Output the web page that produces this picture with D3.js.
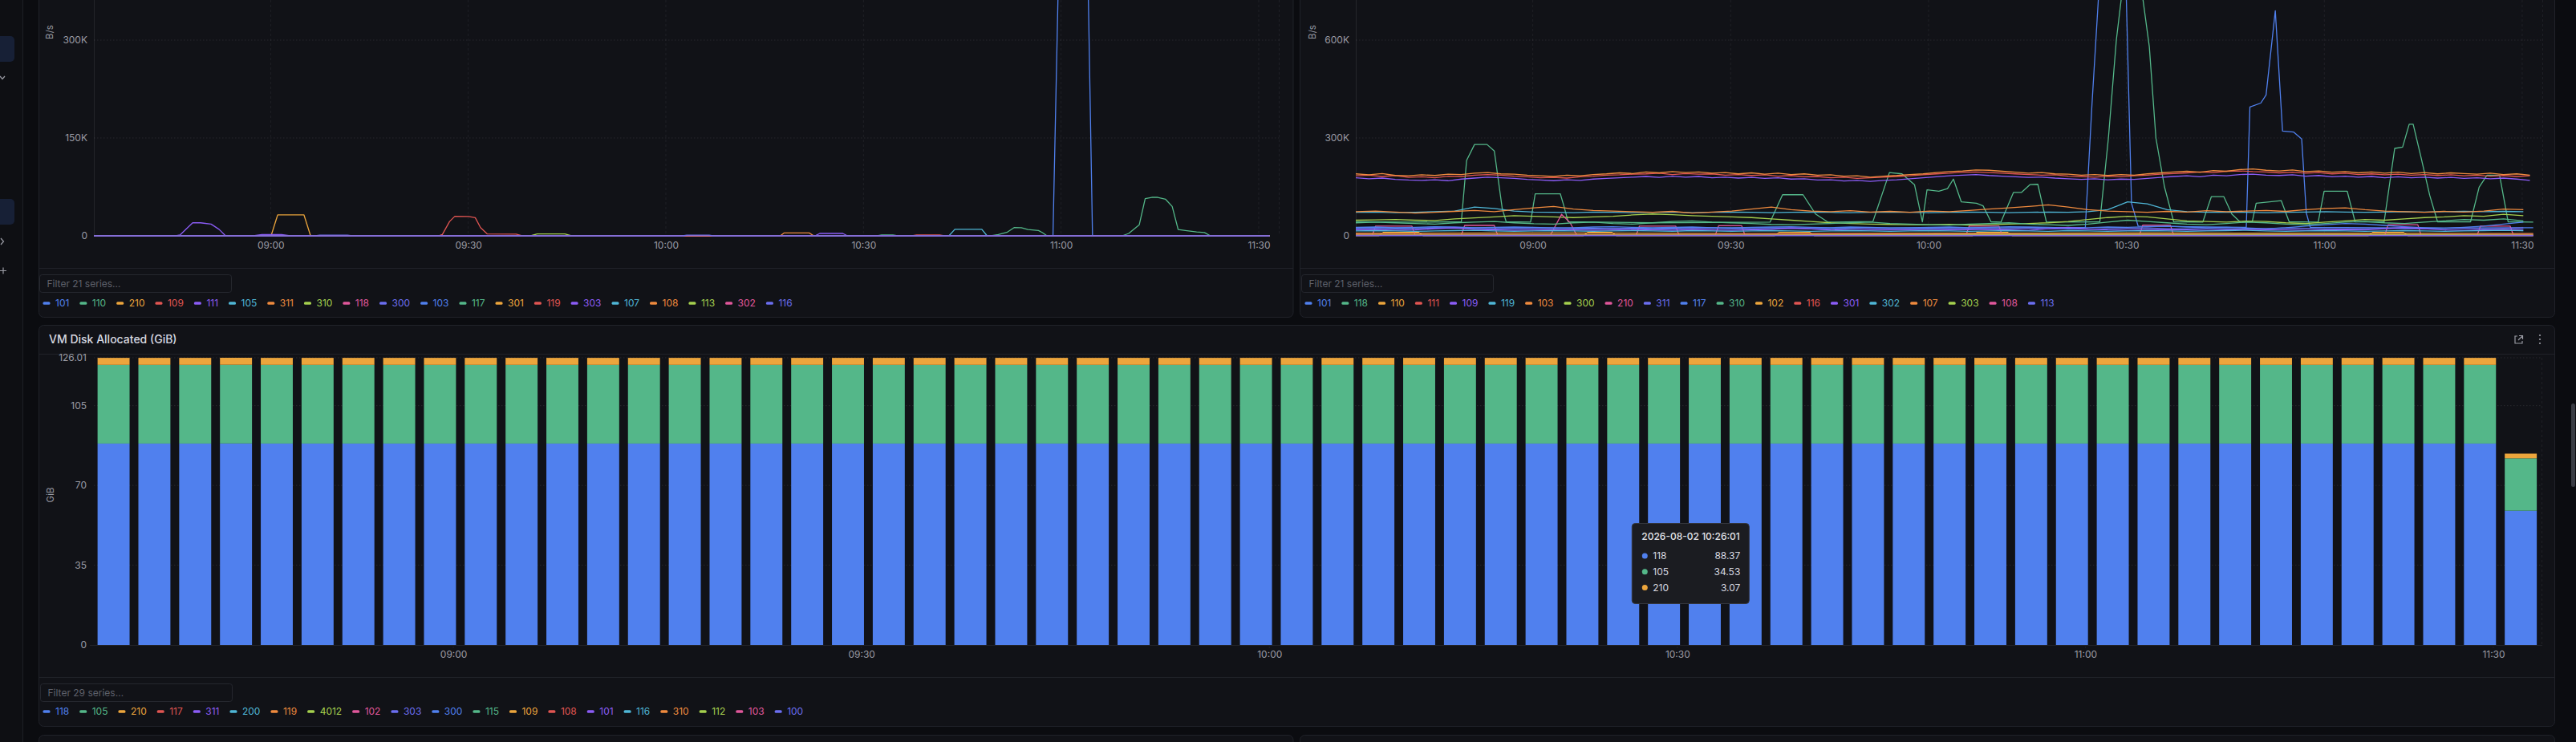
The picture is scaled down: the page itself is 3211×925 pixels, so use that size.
<!DOCTYPE html>
<html>
<head>
<meta charset="utf-8">
<script src="https://cdn.jsdelivr.net/npm/d3@7/dist/d3.min.js"></script>
<style>
  html, body { margin: 0; padding: 0; background: #0b0c10; overflow: hidden; }
  svg { display: block; font-family: Inter, "Noto Sans", sans-serif; }
</style>
</head>
<body>
<svg id="dash" width="3211" height="925"></svg>
<script>
// =========================
// data
// =========================

// series colours, cycled in legend order
const palette = ["#5080ee", "#54b789", "#eca53c", "#e05552", "#8b5cf6",
                 "#4fb6d6", "#ef8a3e", "#a5d04e", "#e0579b", "#6b6ef0"];

// ---- top-left panel (B/s, values in K), points are [minutes after 08:33:10, value]
const leftNames = ["101", "110", "210", "109", "111", "105", "311", "310", "118", "300",
                   "103", "117", "301", "119", "303", "107", "108", "113", "302", "116"];
const leftFilter = "Filter 21 series…";
const leftTicks = [0, 150, 300];

const netL_101 = [[0,0],[145.6,0],[146.6,480],[147.6,900],[148.6,1100],[149.6,800],[150.6,580],[151.6,0],[178.5,0]];
const netL_110 = [[0,0],[156.1,0],[157.1,3.7],[158.7,17],[159.6,57],[160.6,59],[161.5,59],[162.7,56],[163.7,45],[164.6,9.8],[165.7,8.2],[167.4,6],[168.6,5],[169.5,0],[178.5,0]];
const netL_210 = [[0,0],[26.9,0],[27.9,32],[31.9,32],[32.9,0],[178.5,0]];
const netL_109 = [[0,0],[52.3,0],[52.9,2],[54.0,22],[54.8,30],[56.9,29.6],[57.9,27.8],[58.7,12.6],[59.7,3],[64.1,2.5],[65,0],[178.5,0]];
const netL_111 = [[0,0],[12.4,0],[13.1,1.5],[15,20],[16.2,20],[17.8,18],[19,10],[20,0],[178.5,0]];
const netL_105 = [[0,0],[129.8,0],[130.7,10],[134.8,10],[135.6,0],[178.5,0]];
const netL_311 = [[0,0],[104.2,0],[104.8,4.5],[108.6,4.5],[109.3,0],[178.5,0]];
const netL_310 = [[0,0],[66.3,0],[67.3,2.8],[71.5,2.8],[72.5,0],[178.5,0]];
const netL_300 = [[0,0],[33.6,0],[34.3,1],[38.5,1],[39.2,0],[178.5,0]];
const netL_117 = [[0,0],[118.9,0],[119.6,1.5],[121.3,1.5],[122,0],[136.2,0],[137.3,2],[138.6,5.3],[139.7,12.7],[140.8,12.5],[141.8,9.8],[143.4,8.2],[144,4.9],[144.7,0],[178.5,0]];
const netL_119 = [[0,0],[124.2,0],[124.9,1.5],[128.4,1.5],[129.1,0],[178.5,0]];
const netL_303 = [[0,0],[24.2,0],[25.5,2],[28.5,2],[29.8,0],[109.5,0],[110.2,3.7],[113.7,3.7],[114.4,0],[178.5,0]];
const netL_116 = [[0,0],[89.4,0],[90,1],[93.4,1],[94,0],[178.5,0]];
const netL_flat = [[0,0],[178.5,0]];   // 118, 103, 301, 107, 108, 113, 302

// ---- top-right panel (B/s, values in K)
const rightNames = ["101", "118", "110", "111", "109", "119", "103", "300", "210", "311",
                    "117", "310", "102", "116", "301", "302", "107", "303", "108", "113"];
const rightFilter = "Filter 21 series…";
const rightTicks = [0, 300, 600];

// sampled every 2 min from 08:33:10
const netR_103 = [190,187,191,185,184,187,185,189,188,192, 194,190,189,186,184,182,186,184,188,190,
                  193,191,196,193,197,194,196,192,194,190, 193,189,192,188,190,186,187,183,184,180,
                  183,185,188,190,194,197,199,202,201,198, 195,192,194,190,189,186,188,185,188,186,
                  190,193,196,198,195,200,198,203,205,201, 199,202,197,199,195,197,193,196,192,195,
                  191,194,190,193,191,189,192,188,190,186];
const netR_111 = [184,186,182,185,179,181,178,183,182,186, 188,186,183,181,178,179,177,181,183,186,
                  187,189,190,192,188,191,189,190,186,188, 185,187,183,185,181,182,178,180,176,178,
                  180,182,184,187,190,192,195,196,194,192, 190,188,186,187,183,182,180,183,181,184,
                  186,189,191,193,196,194,198,199,197,196, 193,195,192,194,190,192,188,190,187,189,
                  186,188,185,187,184,186,183,185,182,184];
const netR_109 = [178,175,177,173,171,170,172,169,174,177, 180,178,176,173,171,169,172,170,174,176,
                  178,180,182,179,183,180,182,178,180,177, 179,176,178,174,175,171,172,168,170,167,
                  170,172,175,178,181,184,186,188,185,183, 181,179,180,177,175,173,175,172,174,173,
                  176,179,182,184,181,186,184,188,189,186, 185,187,183,185,181,183,180,182,178,181,
                  178,180,177,179,176,178,175,177,174,170];

// sampled every 3 min from 08:33:10
const netR_107 = [74,76,73,70,72,75,78,74,80,86, 90,82,78,76,74,72,75,70,73,76,
                  82,88,80,76,74,77,73,75,72,76, 74,78,82,86,90,95,88,80,76,74,
                  72,75,73,77,74,76,78,75,80,84, 86,80,76,74,72,75,73,76,82,80];
const netR_119 = [72,73,71,72,74,76,88,84,76,73, 72,71,73,72,71,72,73,71,72,73,
                  72,71,72,73,72,71,72,73,72,71, 72,73,72,71,72,73,72,74,80,104,
                  98,80,74,72,73,72,71,72,73,74, 73,72,73,74,73,74,75,74,75,74];
const netR_300 = [48,49,50,48,47,52,55,58,62,60, 58,56,58,60,64,67,65,62,60,58,
                  56,52,48,44,40,38,36,35,34,34, 35,33,34,36,38,40,44,50,56,60,
                  58,52,46,44,42,45,44,40,38,42, 46,50,48,52,56,58,62,60,66,62];
const netR_310 = [40,42,40,38,36,40,42,44,40,37, 36,40,42,38,36,40,44,46,42,40,
                  38,35,34,36,38,40,42,38,36,34, 33,36,38,40,36,34,32,36,42,48,
                  44,40,36,34,38,42,40,36,34,38, 42,44,40,38,42,46,50,48,52,46];
const netR_117 = [26,27,25,26,28,27,25,26,27,26, 24,25,27,28,26,25,26,27,25,24,
                  26,27,28,26,25,27,26,24,25,26, 27,25,26,28,27,26,24,25,27,26,
                  28,30,27,25,26,24,22,25,30,34, 38,36,32,28,25,23,26,30,36,42];
const netR_311 = [22,23,21,22,24,23,22,21,22,23, 24,22,21,23,22,20,21,23,24,22,
                  21,22,23,21,20,22,24,23,22,21, 22,23,21,22,24,22,21,20,22,23,
                  24,22,21,23,22,21,22,24,23,22, 21,22,23,22,21,23,24,22,23,24];
const netR_301 = [18,19,17,18,22,25,20,18,17,18, 19,18,17,18,20,18,17,19,18,17,
                  18,20,24,21,18,17,18,19,18,17, 18,19,20,18,17,22,26,21,18,17,
                  18,19,18,17,18,20,19,18,17,18, 19,18,22,26,22,18,17,18,19,18];
const netR_302 = [15,16,15,14,15,16,17,15,14,15, 16,15,14,15,16,15,14,16,15,14,
                  15,16,15,14,15,16,15,14,15,16, 15,14,15,16,15,14,16,15,14,15,
                  16,15,14,15,16,17,15,14,15,16, 15,14,15,16,15,14,15,16,17,16];

// breakpoints [minutes after 08:33:10, value]
const netR_101 = [[0,24],[20,25],[40,23],[60,25],[80,24],[100,25],[110.6,26],[111.6,400],[112.8,800],[115,950],[116.6,900],[117.6,100],[118.6,30],
                  [135,26],[135.55,395],[137.2,407],[138,432],[139.4,690],[140.5,321],[142.2,318],[143.4,297],[144.1,70],[144.7,26],[160,24],[178.5,25]];
const netR_118 = [[0,43],[8,42],[16,43],[16.8,231],[18,280],[19.9,280],[21,260],[22.2,84],[22.8,43],[26.5,42],[27.2,129],[31,129],[31.5,95],[32.2,43],
                  [45,40],[62.8,42],[64.7,126],[67.8,126],[69.7,67],[71.6,42],[78.4,44],[80.9,194],[82.8,190],[84.7,157],[85.9,43],[86.6,141],[88.4,137],
                  [89.7,145],[90.6,174],[91.8,104],[94.1,100],[95.1,92],[96.3,43],[97.8,42],[99.7,133],[100.9,133],[102.2,157],[103.4,158],[104.7,42],
                  [112.8,43],[114.1,300],[115.3,600],[116.6,820],[117.8,860],[119.1,760],[120.3,580],[121.3,300],[122.6,150],[124,43],
                  [128.4,42],[129.7,120],[131.6,120],[132.8,67],[134.1,42],[135.9,43],[136.5,100],[140.3,108],[141.5,43],[145.9,42],[146.8,137],
                  [150.3,137],[151.5,43],[155.9,43],[157.5,268],[158.7,272],[159.7,342],[160.3,342],[161.5,240],[162.8,125],[164,43],
                  [169,43],[170.3,149],[171.5,186],[173.4,186],[174.7,43],[178.5,42]];
const netR_210 = [[0,2],[2.5,2],[3,30],[8.5,30],[9,2],[16,2],[16.5,32],[21,32],[21.5,2],[29.5,2],[31.2,66],[32.5,40],[33.5,2],[42.5,2],[43,30],
                  [48.5,30],[49,2],[54.5,2],[55,31],[58.5,31],[59,2],[92.5,2],[93,30],[97.5,30],[98,2],[118.8,2],[119.3,33],[123.5,33],[124,2],
                  [156,2],[156.5,34],[161,34],[161.5,2],[170,2],[170.5,30],[175,30],[175.5,2],[178.5,2]];
const netR_110 = [[0,0.5],[3.5,0.5],[4.2,11],[9.5,11],[10.2,0.5],[34.5,0.5],[35.2,11],[38.8,11],[39.5,0.5],[63.5,0.5],[64.2,11],[68.8,11],
                  [69.5,0.5],[93.5,0.5],[94.2,11],[98.8,11],[99.5,0.5],[153.5,0.5],[154.2,11],[158.8,11],[159.5,0.5],[178.5,0.5]];
const netR_102 = [[0,8],[30,9],[60,7],[90,8],[120,9],[150,8],[178.5,7]];
const netR_116 = [[0,5],[40,4],[80,6],[120,5],[160,4],[178.5,5]];
const netR_303 = [[0,3],[60,3],[120,4],[178.5,3]];
const netR_108 = [[0,1.5],[90,1.5],[178.5,1.5]];
const netR_113 = [[0,0.5],[178.5,0.5]];

// ---- VM Disk Allocated (GiB), one bar every 3 min from 08:35:01
const diskTitle = "VM Disk Allocated (GiB)";
const diskNames = ["118", "105", "210", "117", "311", "200", "119", "4012", "102", "303",
                   "300", "115", "109", "108", "101", "116", "310", "112", "103", "100"];
const diskFilter = "Filter 29 series…";
const diskTicks = [0, 35, 70, 105];
const diskStackOrder = ["118", "105", "210"];   // bottom to top
const disk118 = [88.37,88.37,88.37,88.41,88.37,88.37,88.37,88.37,88.37,88.37,
                 88.37,88.37,88.37,88.37,88.37,88.37,88.37,88.37,88.37,88.37,
                 88.37,88.37,88.37,88.37,88.37,88.37,88.37,88.37,88.37,88.37,
                 88.37,88.37,88.37,88.37,88.37,88.37,88.37,88.37,88.37,88.37,
                 88.37,88.37,88.37,88.37,88.37,88.37,88.37,88.37,88.37,88.37,
                 88.37,88.37,88.37,88.37,88.37,88.37,88.37,88.37,88.37,58.9];
const disk105 = [34.53,34.53,34.53,34.53,34.53,34.53,34.53,34.53,34.53,34.53,
                 34.53,34.53,34.53,34.53,34.53,34.53,34.53,34.53,34.53,34.53,
                 34.53,34.53,34.53,34.53,34.53,34.53,34.53,34.53,34.53,34.53,
                 34.53,34.53,34.53,34.53,34.53,34.53,34.53,34.53,34.53,34.53,
                 34.53,34.53,34.53,34.53,34.53,34.53,34.53,34.53,34.53,34.53,
                 34.53,34.53,34.53,34.53,34.53,34.53,34.53,34.53,34.53,23.0];
const disk210 = [3.07,3.07,3.07,3.07,3.07,3.07,3.07,3.07,3.07,3.07,
                 3.07,3.07,3.07,3.07,3.07,3.07,3.07,3.07,3.07,3.07,
                 3.07,3.07,3.07,3.07,3.07,3.07,3.07,3.07,3.07,3.07,
                 3.07,3.07,3.07,3.07,3.07,3.07,3.07,3.07,3.07,3.07,
                 3.07,3.07,3.07,3.07,3.07,3.07,3.07,3.07,3.07,3.07,
                 3.07,3.07,3.07,3.07,3.07,3.07,3.07,3.07,3.07,2.05];
const tooltipIndex = 37;   // bar at 10:26:01

// =========================
// helpers
// =========================
const lineStart = new Date(2026, 7, 2, 8, 33, 10);
const lineEnd = new Date(2026, 7, 2, 11, 33, 10);
const barFirst = new Date(2026, 7, 2, 8, 35, 1);
const minutesAfter = (base, m) => new Date(base.getTime() + m * 60000);

// turn a regularly sampled list into [minute, value] pairs
function sampled(values, step) {
  return values.map((v, k) => [k * step, v]);
}

// name -> points lookups (Map keeps legend order)
const leftData = new Map([
  ["101", netL_101], ["110", netL_110], ["210", netL_210], ["109", netL_109], ["111", netL_111],
  ["105", netL_105], ["311", netL_311], ["310", netL_310], ["118", netL_flat], ["300", netL_300],
  ["103", netL_flat], ["117", netL_117], ["301", netL_flat], ["119", netL_119], ["303", netL_303],
  ["107", netL_flat], ["108", netL_flat], ["113", netL_flat], ["302", netL_flat], ["116", netL_116]
]);
const rightData = new Map([
  ["101", netR_101], ["118", netR_118], ["110", netR_110], ["111", sampled(netR_111, 2)], ["109", sampled(netR_109, 2)],
  ["119", sampled(netR_119, 3)], ["103", sampled(netR_103, 2)], ["300", sampled(netR_300, 3)], ["210", netR_210],
  ["311", sampled(netR_311, 3)], ["117", sampled(netR_117, 3)], ["310", sampled(netR_310, 3)], ["102", netR_102],
  ["116", netR_116], ["301", sampled(netR_301, 3)], ["302", sampled(netR_302, 3)], ["107", sampled(netR_107, 3)],
  ["303", netR_303], ["108", netR_108], ["113", netR_113]
]);
const diskData = new Map([["118", disk118], ["105", disk105], ["210", disk210]]);

const W = 3211, H = 925;
const C = {
  page: "#0b0c10", panel: "#111217", border: "#202229", title: "#d8d9e0",
  axis: "#9a9ba4", grid: "rgba(204,204,220,0.12)", placeholder: "#5f616b"
};

const svg = d3.select("#dash");
svg.append("rect").attr("width", W).attr("height", H).attr("fill", C.page);

// ---- left nav strip
const side = svg.append("g");
side.append("rect").attr("x", 0).attr("y", 0).attr("width", 28).attr("height", H).attr("fill", "#0e0f13");
side.append("line").attr("x1", 28.5).attr("x2", 28.5).attr("y1", 0).attr("y2", H).attr("stroke", "#1d1f25");
[45, 248].forEach(y => {
  side.append("rect").attr("x", -8).attr("y", y).attr("width", 26).attr("height", 32).attr("rx", 5).attr("fill", "#172036");
});
side.append("path").attr("d", "M0,95 L3,98.5 L6,95").attr("fill", "none").attr("stroke", "#9a9ba4").attr("stroke-width", 1.2);
side.append("path").attr("d", "M1,297 L4.5,301 L1,305").attr("fill", "none").attr("stroke", "#9a9ba4").attr("stroke-width", 1.2);
side.append("path").attr("d", "M0,337.5 H8 M4,333.5 V341.5").attr("stroke", "#9a9ba4").attr("stroke-width", 1.2);

// page scrollbar thumb
svg.append("rect").attr("x", 3205).attr("y", 503).attr("width", 5).attr("height", 104).attr("rx", 2.5).attr("fill", "#3a3c44");

// ---- panels
function panel(x, y, w, h) {
  svg.append("rect").attr("x", x).attr("y", y).attr("width", w).attr("height", h).attr("rx", 6)
    .attr("fill", C.panel).attr("stroke", C.border);
}
function hline(x1, x2, y) {
  svg.append("line").attr("x1", x1).attr("x2", x2).attr("y1", y).attr("y2", y).attr("stroke", C.border);
}
panel(48.5, -20, 1563.5, 415.5);
panel(1620.5, -20, 1564, 415.5);
panel(48.5, 405.5, 3136, 500);
panel(48.5, 916.5, 1563.5, 40);
panel(1620.5, 916.5, 1564, 40);
hline(49, 1612, 334.5);
hline(1621, 3184, 334.5);
hline(49, 3184, 441.5);
hline(49, 3184, 844.5);

// ---- legend + filter box
function filterBox(x, y, text) {
  svg.append("rect").attr("x", x).attr("y", y).attr("width", 239).attr("height", 22).attr("rx", 3)
    .attr("fill", C.panel).attr("stroke", "#25272e");
  svg.append("text").attr("x", x + 9).attr("y", y + 15).attr("font-size", 12)
    .attr("fill", C.placeholder).text(text);
}
function legend(names, x0, cy) {
  const g = svg.append("g").attr("font-size", 12);
  let x = x0;
  names.forEach((n, i) => {
    const col = palette[i % palette.length];
    g.append("rect").attr("x", x).attr("y", cy - 1.75).attr("width", 9).attr("height", 3.5).attr("rx", 1.5).attr("fill", col);
    const t = g.append("text").attr("x", x + 15.5).attr("y", cy + 4.3).attr("fill", col).text(n);
    x += 15.5 + t.node().getComputedTextLength() + 13;
  });
}

// ---- time series panels
function lineChart(cfg) {
  const x = d3.scaleTime().domain([lineStart, lineEnd]).range([cfg.left, cfg.right]);
  const y = d3.scaleLinear().domain([0, cfg.yTicks[cfg.yTicks.length - 1]]).range([cfg.zero, 50]);
  const g = svg.append("g");

  // grid
  g.selectAll(null).data(cfg.yTicks.slice(1)).join("line")
    .attr("x1", cfg.left).attr("x2", cfg.right).attr("y1", d => y(d)).attr("y2", d => y(d))
    .attr("stroke", C.grid).attr("stroke-dasharray", "1.5,2.5");
  const xt = x.ticks(d3.timeMinute.every(30));
  g.selectAll(null).data(xt).join("line")
    .attr("x1", d => x(d)).attr("x2", d => x(d)).attr("y1", 0).attr("y2", cfg.zero)
    .attr("stroke", "rgba(204,204,220,0.08)").attr("stroke-dasharray", "3,3");
  g.append("line").attr("x1", cfg.left + 0.5).attr("x2", cfg.left + 0.5).attr("y1", 0).attr("y2", cfg.zero)
    .attr("stroke", "rgba(204,204,220,0.1)");
  g.append("line").attr("x1", cfg.right - 0.5).attr("x2", cfg.right - 0.5).attr("y1", 0).attr("y2", cfg.zero)
    .attr("stroke", "rgba(204,204,220,0.08)").attr("stroke-dasharray", "3,3");

  // series
  g.append("clipPath").attr("id", cfg.id).append("rect")
    .attr("x", cfg.left).attr("y", -5).attr("width", cfg.right - cfg.left).attr("height", cfg.zero + 7);
  const line = d3.line().x(d => x(minutesAfter(lineStart, d[0]))).y(d => y(d[1]));
  const lines = g.append("g").attr("clip-path", `url(#${cfg.id})`);
  cfg.names.forEach((n, i) => {
    const pts = cfg.data.get(n);
    if (!pts) return;
    lines.append("path").attr("d", line(pts)).attr("fill", "none")
      .attr("stroke", palette[i % palette.length]).attr("stroke-width", 1.3).attr("stroke-linejoin", "round");
  });

  // axes
  const ax = g.append("g").attr("transform", `translate(0,${cfg.zero})`)
    .call(d3.axisBottom(x).ticks(d3.timeMinute.every(30)).tickFormat(d3.timeFormat("%H:%M")).tickSize(0).tickPadding(7.5));
  const ay = g.append("g").attr("transform", `translate(${cfg.left},0)`)
    .call(d3.axisLeft(y).tickValues(cfg.yTicks).tickFormat(d => d === 0 ? "0" : d + "K").tickSize(0).tickPadding(8));
  [ax, ay].forEach(a => {
    a.select(".domain").remove();
    a.selectAll("text").attr("fill", C.axis).attr("font-size", 12).attr("font-family", "Inter, sans-serif");
  });
  g.append("text").attr("transform", `translate(${cfg.unitX},40) rotate(-90)`)
    .attr("text-anchor", "middle").attr("dy", "0.35em").attr("font-size", 11.5).attr("fill", C.axis).text("B/s");
}

lineChart({ id: "clipL", left: 117, right: 1595, zero: 294, yTicks: leftTicks, names: leftNames, data: leftData, unitX: 62 });
lineChart({ id: "clipR", left: 1690, right: 3170, zero: 294, yTicks: rightTicks, names: rightNames, data: rightData, unitX: 1636 });
filterBox(49.5, 342.5, leftFilter);
filterBox(1622.5, 342.5, rightFilter);
legend(leftNames, 53.5, 378);
legend(rightNames, 1626.5, 378);

// ---- VM Disk Allocated bar chart
function diskChart() {
  const keys = diskStackOrder;
  const rows = disk118.map((v, k) => {
    const r = { t: minutesAfter(barFirst, k * 3) };
    keys.forEach(key => { r[key] = diskData.get(key)[k]; });
    return r;
  });
  const stacked = d3.stack().keys(keys)(rows);
  const maxTotal = d3.max(rows, r => d3.sum(keys, key => r[key]));

  const x = d3.scaleTime()
    .domain([new Date(2026, 7, 2, 8, 33, 34), new Date(2026, 7, 2, 11, 33, 36)])
    .range([117, 3169]);
  const y = d3.scaleLinear().domain([0, maxTotal]).range([804, 446]);
  const step = x(rows[1].t) - x(rows[0].t);
  const bw = step * 0.785;
  const ticks = diskTicks.concat([maxTotal]);

  const g = svg.append("g");
  g.selectAll(null).data(ticks.slice(1)).join("line")
    .attr("x1", 117).attr("x2", 3169).attr("y1", d => y(d)).attr("y2", d => y(d))
    .attr("stroke", C.grid).attr("stroke-dasharray", "1.5,2.5");
  g.selectAll(null).data(x.ticks(d3.timeMinute.every(30))).join("line")
    .attr("x1", d => x(d)).attr("x2", d => x(d)).attr("y1", 446).attr("y2", 808)
    .attr("stroke", "rgba(204,204,220,0.08)").attr("stroke-dasharray", "3,3");
  g.append("line").attr("x1", 3168.5).attr("x2", 3168.5).attr("y1", 446).attr("y2", 804)
    .attr("stroke", "rgba(204,204,220,0.08)").attr("stroke-dasharray", "3,3");
  g.append("line").attr("x1", 112).attr("x2", 3169).attr("y1", 804.5).attr("y2", 804.5)
    .attr("stroke", "rgba(204,204,220,0.1)");

  stacked.forEach(layer => {
    const col = palette[diskNames.indexOf(layer.key) % palette.length];
    g.append("g").selectAll("rect").data(layer).join("rect")
      .attr("x", d => x(d.data.t) - bw / 2)
      .attr("width", bw)
      .attr("y", d => y(d[1]))
      .attr("height", d => y(d[0]) - y(d[1]))
      .attr("fill", col);
  });

  const ax = g.append("g").attr("transform", "translate(0,804)")
    .call(d3.axisBottom(x).ticks(d3.timeMinute.every(30)).tickFormat(d3.timeFormat("%H:%M")).tickSize(0).tickPadding(7.5));
  const ay = g.append("g").attr("transform", "translate(117,0)")
    .call(d3.axisLeft(y).tickValues(ticks).tickFormat(d => d === maxTotal ? d.toFixed(2) : d).tickSize(0).tickPadding(9));
  [ax, ay].forEach(a => {
    a.select(".domain").remove();
    a.selectAll("text").attr("fill", C.axis).attr("font-size", 12).attr("font-family", "Inter, sans-serif");
  });
  g.append("text").attr("transform", "translate(62.5,617) rotate(-90)")
    .attr("text-anchor", "middle").attr("dy", "0.35em").attr("font-size", 11.5).attr("fill", C.axis).text("GiB");

  // hover tooltip
  const row = rows[tooltipIndex];
  const tx = x(row.t) + 11, ty = 652.5;
  const tip = svg.append("g").attr("transform", `translate(${tx},${ty})`).attr("font-size", 12);
  tip.append("rect").attr("width", 146).attr("height", 100).attr("rx", 4)
    .attr("fill", "#1b1c21").attr("stroke", "#34363d");
  tip.append("text").attr("x", 12).attr("y", 20).attr("fill", "#e4e5ea").attr("font-weight", 500)
    .text(d3.timeFormat("%Y-%m-%d %H:%M:%S")(row.t));
  keys.forEach((key, i) => {
    const cy = 40.5 + i * 19.7;
    tip.append("circle").attr("cx", 16).attr("cy", cy).attr("r", 3.5)
      .attr("fill", palette[diskNames.indexOf(key) % palette.length]);
    tip.append("text").attr("x", 26).attr("y", cy + 4.3).attr("fill", "#d8d9e0").text(key);
    tip.append("text").attr("x", 135).attr("y", cy + 4.3).attr("text-anchor", "end").attr("fill", "#d8d9e0")
      .text(row[key].toFixed(2));
  });
}
diskChart();

svg.append("text").attr("x", 61).attr("y", 428).attr("font-size", 14).attr("font-weight", 500)
  .attr("fill", C.title).text(diskTitle);

// header icons: open-in-new and menu
const icons = svg.append("g").attr("stroke", C.axis).attr("fill", "none").attr("stroke-width", 1.2);
icons.append("path").attr("d", "M3138,419 H3135 V428 H3144 V425 M3140,418.5 H3144.5 V423 M3144.5,418.5 L3139,424");
[418, 423, 428].forEach(cy => {
  svg.append("circle").attr("cx", 3166).attr("cy", cy).attr("r", 1.1).attr("fill", C.axis);
});

filterBox(50.5, 852.5, diskFilter);
legend(diskNames, 53.5, 887);
</script>
</body>
</html>
